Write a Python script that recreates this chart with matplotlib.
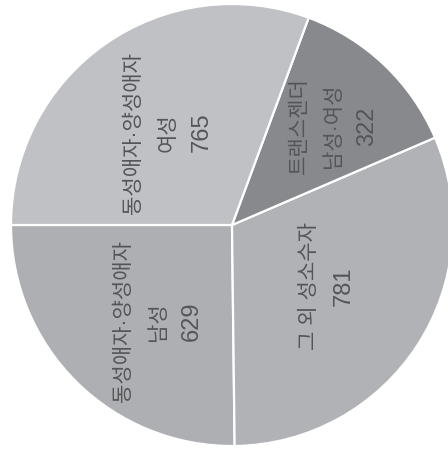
import matplotlib
matplotlib.use("Agg")
import numpy as np
from matplotlib import pyplot as plt
from matplotlib import transforms

# slices go counter-clockwise starting at 9 o'clock
groups = [['동성애자·양성애자', '남성'], ['그 외 성소수자'], ['트랜스젠더', '남성·여성'], ['동성애자·양성애자', '여성']]
counts = [629, 781, 322, 765]
colors = ['#aeafb2', '#b1b2b5', '#88898d', '#c0c1c4']
label_r = [0.55, 0.51, 0.64, 0.51]
label_turn = [7, 0, -2, 0]

fonts = ['Liberation Sans', 'Noto Sans CJK KR']
ink = '#555558'
gap = 34  # px between text lines

fig = plt.figure(figsize=(4.48, 4.49), dpi=100)
ax = fig.add_axes([0, 0, 1, 1])

wedges, _ = ax.pie(counts, colors=colors, startangle=180, counterclock=True,
                   wedgeprops=dict(edgecolor='white', linewidth=1.6))

for w, g, n, r, t in zip(wedges, groups, counts, label_r, label_turn):
    mid = np.deg2rad((w.theta1 + w.theta2) / 2 + t)
    cx, cy = r * np.cos(mid), r * np.sin(mid)
    lines = g + [str(n)]
    for i, line in enumerate(lines):
        dx = (i - (len(lines) - 1) / 2) * gap
        tr = ax.transData + transforms.Affine2D().translate(dx, 0)
        is_num = line.isdigit()
        ax.text(cx, cy, line, transform=tr, rotation=90,
                ha='center', va='center', family=fonts,
                fontsize=17 if is_num else 15.2,
                fontweight='normal' if is_num else 'light', color=ink)

R = 221.0
ax.set_xlim(-232 / R, 216 / R)
ax.set_ylim(-224 / R, 225 / R)
ax.set_aspect('auto')
ax.axis('off')

fig.savefig('out.png', dpi=100, facecolor='white')
